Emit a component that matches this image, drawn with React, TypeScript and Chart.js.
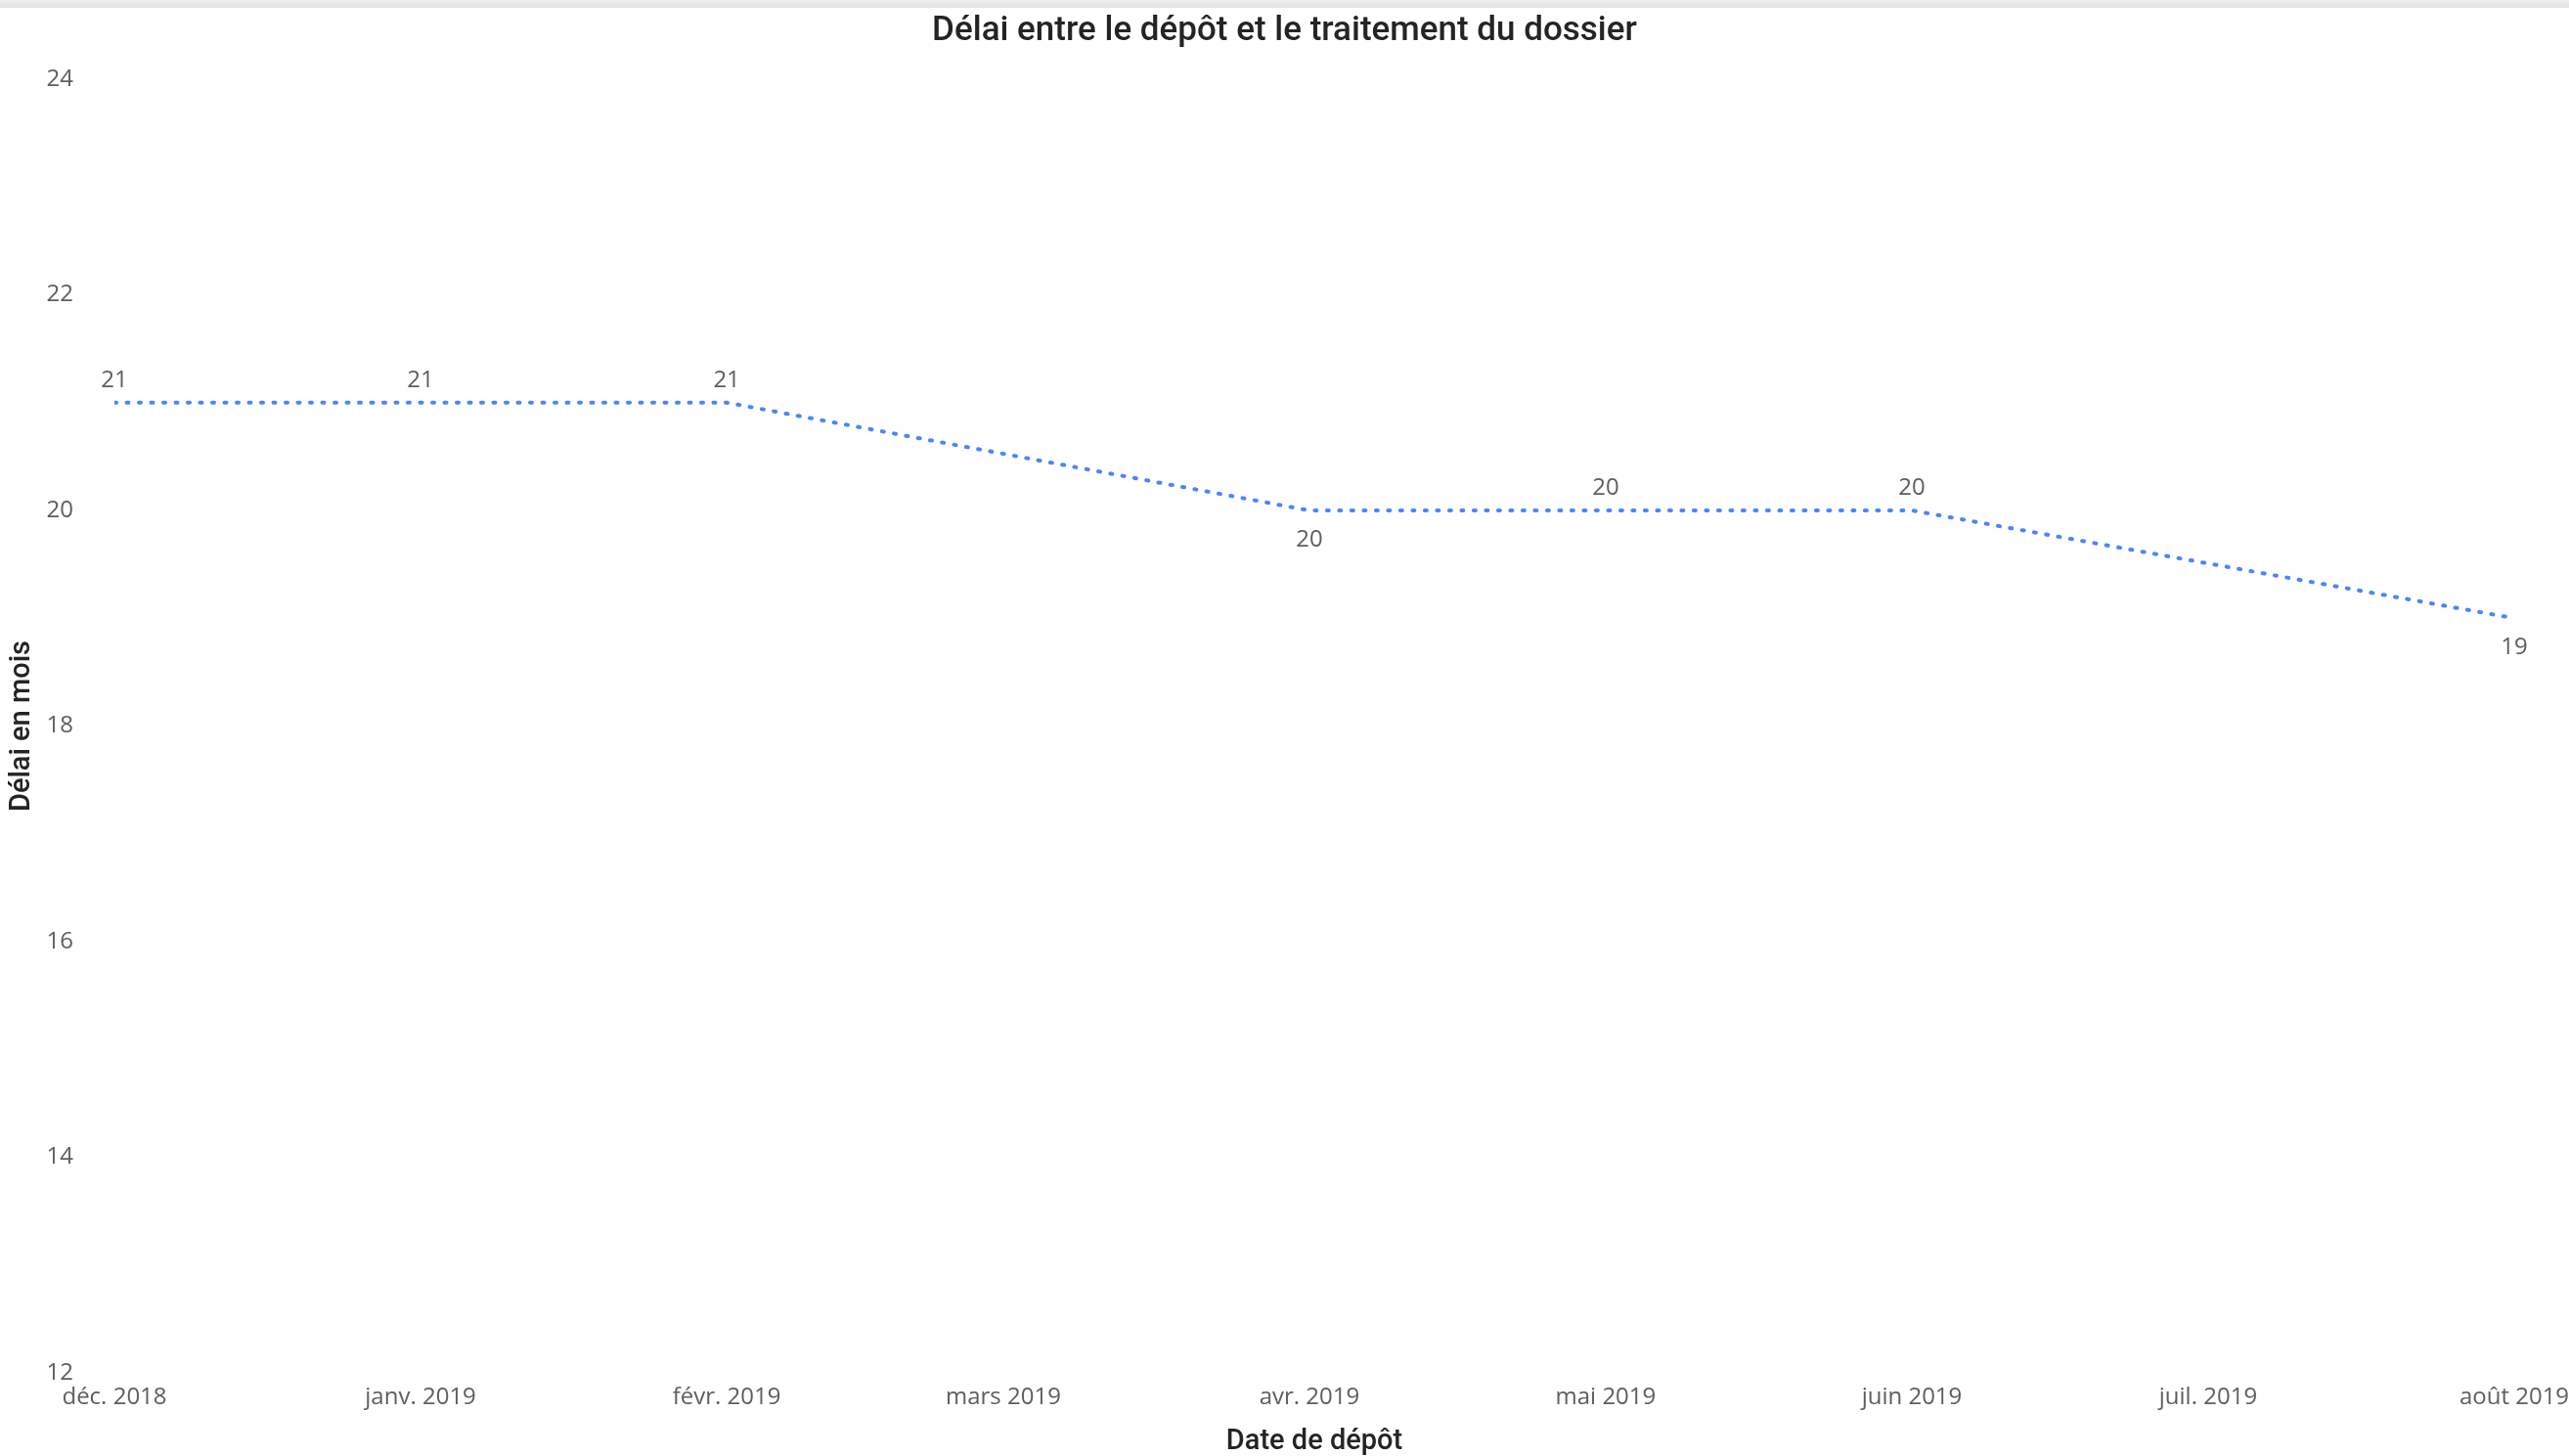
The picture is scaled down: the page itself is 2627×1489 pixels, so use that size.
import React, { useEffect, useRef } from 'react';
import { Chart, registerables } from 'chart.js';

Chart.register(...registerables);

// ---- Data ----
const pointDates = ['2018-12-01', '2019-01-01', '2019-02-01', '2019-04-01', '2019-05-01', '2019-06-01', '2019-08-01'];
const delaiMois = [21, 21, 21, 20, 20, 20, 19];
const tickDates = ['2018-12-01', '2019-01-01', '2019-02-01', '2019-03-01', '2019-04-01', '2019-05-01', '2019-06-01', '2019-07-01', '2019-08-01'];
const tickLabels = ['déc. 2018', 'janv. 2019', 'févr. 2019', 'mars 2019', 'avr. 2019', 'mai 2019', 'juin 2019', 'juil. 2019', 'août 2019'];
const yMin = 12;
const yMax = 24;
const yStep = 2;

const chartTitle = 'Délai entre le dépôt et le traitement du dossier';
const xTitle = 'Date de dépôt';
const yTitle = 'Délai en mois';

const toDay = (s: string) => {
  const [y, m, d] = s.split('-').map(Number);
  return Date.UTC(y, m - 1, d) / 86400000;
};

const tickDays = tickDates.map(toDay);

const dataLabelPlugin = {
  id: 'dataLabels',
  afterDatasetsDraw(chart: any) {
    const ctx = chart.ctx;
    const meta = chart.getDatasetMeta(0);
    const data = chart.data.datasets[0].data as { x: number; y: number }[];
    ctx.save();
    ctx.font = '24px "Open Sans"';
    ctx.fillStyle = '#605E5C';
    ctx.textAlign = 'center';
    ctx.textBaseline = 'middle';
    meta.data.forEach((pt: any, i: number) => {
      const v = data[i].y;
      const prev = i > 0 ? data[i - 1].y : v;
      const below = v < prev;
      ctx.fillText(String(v), pt.x, pt.y + (below ? 30 : -23));
    });
    ctx.restore();
  },
};

export default function App() {
  const canvasRef = useRef<HTMLCanvasElement | null>(null);

  useEffect(() => {
    if (!canvasRef.current) return;
    const chart = new Chart(canvasRef.current, {
      type: 'line',
      data: {
        datasets: [
          {
            data: pointDates.map((d, i) => ({ x: toDay(d), y: delaiMois[i] })),
            borderColor: '#4a86f8',
            borderWidth: 4,
            borderDash: [2, 10.5],
            borderCapStyle: 'round',
            pointRadius: 0,
            tension: 0,
            fill: false,
          },
        ],
      },
      options: {
        animation: false,
        responsive: true,
        maintainAspectRatio: false,
        layout: { padding: 0 },
        plugins: {
          legend: { display: false },
          tooltip: { enabled: false },
          title: {
            display: true,
            text: chartTitle,
            color: '#252423',
            font: { family: 'Roboto', size: 35, weight: '500' },
            padding: { top: 11, bottom: 28 },
          },
        },
        scales: {
          x: {
            type: 'linear',
            min: tickDays[0],
            max: tickDays[tickDays.length - 1],
            grid: { display: false, drawTicks: false },
            border: { display: false },
            afterBuildTicks: (scale: any) => {
              scale.ticks = tickDays.map((v) => ({ value: v }));
            },
            afterFit: (scale: any) => {
              scale.height = 85;
              scale.paddingRight = 56;
              scale.paddingLeft = 0;
            },
            ticks: {
              autoSkip: false,
              maxRotation: 0,
              padding: 11,
              color: '#605E5C',
              font: { family: 'Open Sans', size: 24 },
              callback: (v: any) => {
                const idx = tickDays.indexOf(Number(v));
                return idx >= 0 ? tickLabels[idx] : '';
              },
            },
            title: {
              display: true,
              text: xTitle,
              color: '#252423',
              font: { family: 'Roboto', size: 29, weight: '500' },
              padding: { top: 0, bottom: -3 },
            },
          },
          y: {
            min: yMin,
            max: yMax,
            grid: { display: false, drawTicks: false },
            border: { display: false },
            afterFit: (scale: any) => {
              scale.width = 117;
            },
            ticks: {
              stepSize: yStep,
              padding: 42,
              color: '#605E5C',
              font: { family: 'Open Sans', size: 24 },
            },
            title: {
              display: true,
              text: yTitle,
              color: '#252423',
              font: { family: 'Roboto', size: 29, weight: '500' },
              padding: { top: 5, bottom: 0 },
            },
          },
        },
      },
      plugins: [dataLabelPlugin],
    });
    return () => chart.destroy();
  }, []);

  return (
    <div style={{ position: 'fixed', left: 0, top: 0, width: 2627, height: 1489, background: '#fff' }}>
      <canvas ref={canvasRef} />
      <div
        style={{
          position: 'absolute',
          left: 0,
          top: 0,
          width: 2627,
          height: 8,
          background: 'linear-gradient(#f0efee, #e3e2e1)',
        }}
      />
    </div>
  );
}
